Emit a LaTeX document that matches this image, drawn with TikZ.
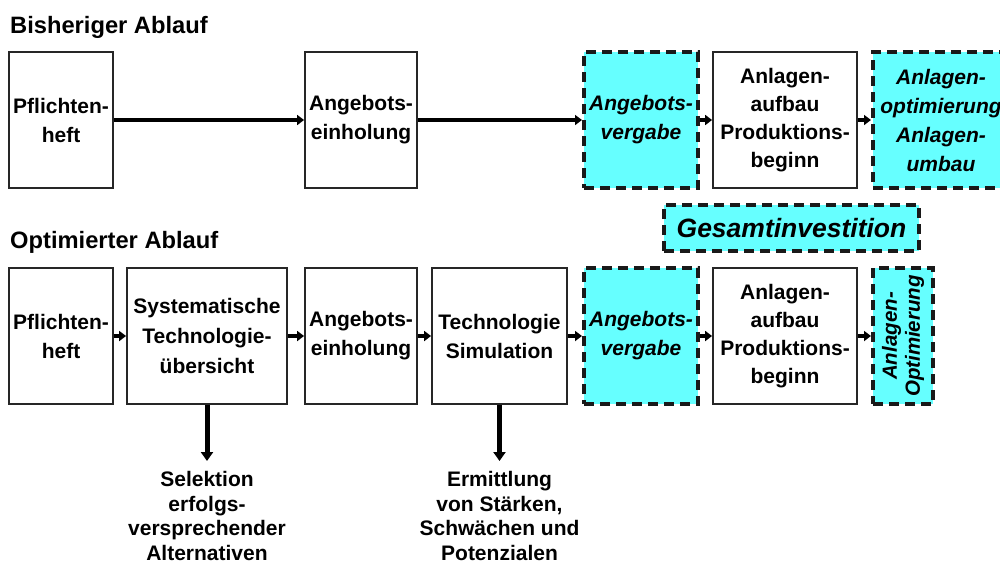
\documentclass[tikz,border=0pt]{standalone}
\usepackage{fontspec}
\setmainfont{Liberation Sans}
\usetikzlibrary{arrows.meta}
\definecolor{invcyan}{RGB}{102,255,255}
\tikzset{
  x=1pt, y=-1pt,
  stepbox/.style={draw=black!85, line width=1.8pt, fill=white, inner sep=0pt,
    minimum height=136pt, align=center,
    font=\fontsize{21}{29}\selectfont\bfseries},
  invbox/.style={draw=black!90, line width=4pt, dash pattern=on 10pt off 6pt,
    fill=invcyan, inner sep=0pt, minimum height=136pt, align=center,
    font=\fontsize{21}{29}\selectfont\bfseries\itshape},
  flow/.style={line width=4pt, draw=black,
    -{Triangle[length=7pt,width=10pt]}},
  result/.style={line width=5pt, draw=black,
    -{Triangle[length=9pt,width=12pt]}},
  heading/.style={anchor=base west, inner sep=0pt,
    font=\fontsize{23.7}{28}\selectfont\bfseries},
  note/.style={align=center, inner sep=0pt,
    font=\fontsize{21}{24.6}\selectfont\bfseries},
}
\begin{document}
\begin{tikzpicture}
\useasboundingbox (0,0) rectangle (1000,565);
\clip (0,0) rectangle (1000,565);

% headings
\node[heading] (h1) at (10,33) {Bisheriger Ablauf};
\node[heading] (h2) at (10,248) {Optimierter Ablauf};

% previous sequence
\node[stepbox, minimum width=104pt] (p1) at (61,120) {Pflichten-\\heft};
\node[stepbox, minimum width=112pt] (a1) at (361,120) {Angebots-\\einholung};
\node[invbox, minimum width=114pt] (v1) at (641,120) {Angebots-\\vergabe};
\node[stepbox, minimum width=144pt, font=\fontsize{21}{28}\selectfont\bfseries] (b1) at (785,120)
  {Anlagen-\\aufbau\\Produktions-\\beginn};
\node[invbox, minimum width=136pt] (o1) at (941,120)
  {Anlagen-\\optimierung\\Anlagen-\\umbau};

\draw[flow] (p1) -- (a1);
\draw[flow] (a1) -- (v1);
\draw[flow] (v1) -- (b1);
\draw[flow] (b1) -- (o1);

% total investment
\node[invbox, minimum width=255pt, minimum height=46pt,
  font=\fontsize{26.5}{30}\selectfont\bfseries\itshape] (gi) at (791.5,228) {Gesamtinvestition};

% optimised sequence
\node[stepbox, minimum width=104pt] (p2) at (61,336) {Pflichten-\\heft};
\node[stepbox, minimum width=160pt, font=\fontsize{21}{30}\selectfont\bfseries] (s2) at (207,336)
  {Systematische\\Technologie-\\übersicht};
\node[stepbox, minimum width=112pt] (a2) at (361,336) {Angebots-\\einholung};
\node[stepbox, minimum width=135pt] (t2) at (499.5,336) {Technologie\\Simulation};
\node[invbox, minimum width=114pt] (v2) at (641,336) {Angebots-\\vergabe};
\node[stepbox, minimum width=144pt, font=\fontsize{21}{28}\selectfont\bfseries] (b2) at (785,336)
  {Anlagen-\\aufbau\\Produktions-\\beginn};
\node[invbox, minimum width=60pt, minimum height=136pt] (o2) at (903,336) {};
\node[rotate=90, align=center, inner sep=0pt,
  font=\fontsize{20.5}{23}\selectfont\bfseries\itshape] (o2t) at (o2.center) {Anlagen-\\Optimierung};

\draw[flow] (p2) -- (s2);
\draw[flow] (s2) -- (a2);
\draw[flow] (a2) -- (t2);
\draw[flow] (t2) -- (v2);
\draw[flow] (v2) -- (b2);
\draw[flow] (b2) -- (o2);

% outcomes of the added steps
\coordinate (selTip) at (207,461);
\coordinate (ermTip) at (499.5,461);
\node[note] (sel) at (207,516) {Selektion\\erfolgs-\\versprechender\\Alternativen};
\node[note] (erm) at (499.5,516) {Ermittlung\\von Stärken,\\Schwächen und\\Potenzialen};
\draw[result] (s2.south) -- (selTip);
\draw[result] (t2.south) -- (ermTip);
\end{tikzpicture}
\end{document}
